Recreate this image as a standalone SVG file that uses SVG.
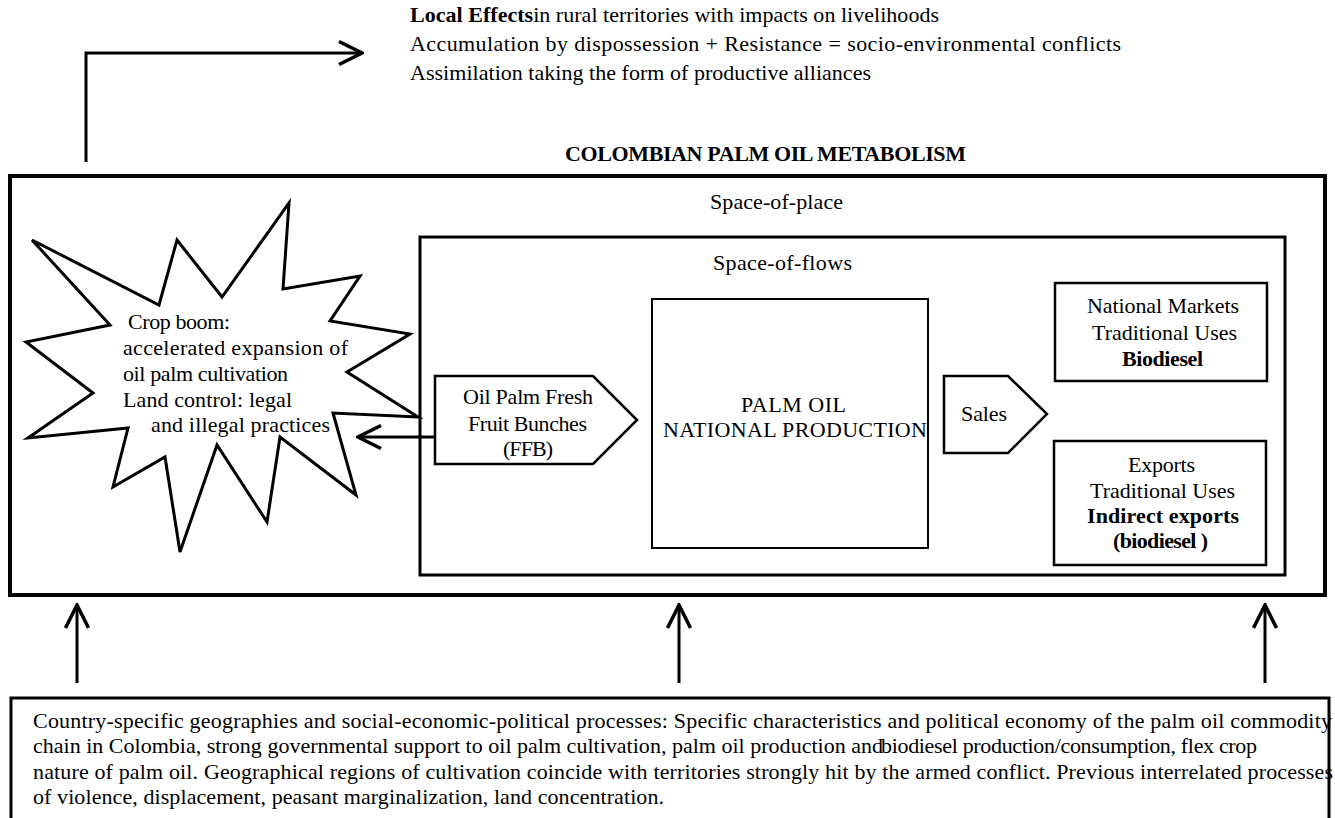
<svg xmlns="http://www.w3.org/2000/svg" width="1335" height="818" viewBox="0 0 1335 818" font-family="'Liberation Serif', 'DejaVu Serif', serif">
<style>
text{font-family:'Liberation Serif','DejaVu Serif',serif;font-size:22px;fill:#000}
.b{font-weight:bold}
.bx{fill:#fff;stroke:#000}
.cn{fill:none;stroke:#000;stroke-width:3}
</style>
<defs>
<marker id="chev" viewBox="0 0 26 26" refX="24" refY="13" markerWidth="26" markerHeight="26" markerUnits="userSpaceOnUse" orient="auto">
<path d="M1,1.5 L24,13 L1,24.5" fill="none" stroke="#000" stroke-width="3.5" stroke-linejoin="miter"/>
</marker>
</defs>
<rect width="1335" height="818" fill="#fff"/>

<g id="node-effects">
<text x="410" y="22" textLength="529" lengthAdjust="spacing"><tspan class="b">Local Effects</tspan>in rural territories with impacts on livelihoods</text>
<text x="410" y="51" textLength="711" lengthAdjust="spacing">Accumulation by dispossession  +  Resistance  =  socio-environmental conflicts</text>
<text x="410" y="80" textLength="461" lengthAdjust="spacing">Assimilation taking the form of productive alliances</text>
</g>

<g id="title">
<text class="b" x="565" y="161" textLength="401" lengthAdjust="spacing">COLOMBIAN PALM OIL METABOLISM</text>
</g>

<g id="node-space-of-place">
<rect class="bx" x="10" y="176" width="1315" height="419" stroke-width="4"/>
<text x="710" y="209" textLength="133" lengthAdjust="spacing">Space-of-place</text>
</g>

<g id="node-space-of-flows">
<rect class="bx" x="420" y="237" width="865" height="338" stroke-width="3"/>
<text x="713" y="270" textLength="139" lengthAdjust="spacing">Space-of-flows</text>
</g>

<g id="node-crop-boom">
<polygon class="bx" stroke-width="3" stroke-linejoin="miter" points="32,240 159,305 177,240 222,297 289,203 283,289 360,276 330,321 410,334 347,372 418,417 333,413 356,495 280,437 267,522 217,445 180,552 165,457 113,487 128,428 28,438 93,393 26,342 110,325"/>
<text x="128" y="329" textLength="102" lengthAdjust="spacing">Crop boom:</text>
<text x="123" y="355" textLength="225" lengthAdjust="spacing">accelerated expansion of</text>
<text x="123" y="381" textLength="165" lengthAdjust="spacing">oil palm cultivation</text>
<text x="123" y="407" textLength="169" lengthAdjust="spacing">Land control: legal</text>
<text x="151" y="432" textLength="179" lengthAdjust="spacing">and illegal practices</text>
</g>

<g id="node-ffb">
<polygon class="bx" stroke-width="2.5" points="435,376 593,376 637,420 593,464 435,464"/>
<text x="463" y="404" textLength="130" lengthAdjust="spacing">Oil Palm Fresh</text>
<text x="468" y="431" textLength="119" lengthAdjust="spacing">Fruit Bunches</text>
<text x="503" y="456" textLength="50" lengthAdjust="spacing">(FFB)</text>
</g>

<g id="node-production">
<rect class="bx" x="652" y="299" width="276" height="249" stroke-width="2"/>
<text x="741" y="412" textLength="105" lengthAdjust="spacing">PALM OIL</text>
<text x="663" y="437" textLength="264" lengthAdjust="spacing">NATIONAL PRODUCTION</text>
</g>

<g id="node-sales">
<polygon class="bx" stroke-width="2.5" points="944,376 1008,376 1047,414 1008,453 944,453"/>
<text x="961" y="421" textLength="46" lengthAdjust="spacing">Sales</text>
</g>

<g id="node-national-markets">
<rect class="bx" x="1055" y="283" width="212" height="98" stroke-width="2.5"/>
<text x="1087" y="313" textLength="152" lengthAdjust="spacing">National Markets</text>
<text x="1092" y="340" textLength="145" lengthAdjust="spacing">Traditional Uses</text>
<text class="b" x="1122" y="366" textLength="81" lengthAdjust="spacing">Biodiesel</text>
</g>

<g id="node-exports">
<rect class="bx" x="1054" y="441" width="212" height="124" stroke-width="2.5"/>
<text x="1128" y="472" textLength="67" lengthAdjust="spacing">Exports</text>
<text x="1090" y="498" textLength="145" lengthAdjust="spacing">Traditional Uses</text>
<text class="b" x="1087" y="523" textLength="152" lengthAdjust="spacing">Indirect exports</text>
<text class="b" x="1113" y="548" textLength="95" lengthAdjust="spacing">(biodiesel )</text>
</g>

<g id="node-context">
<rect class="bx" x="11" y="698" width="1318" height="140" stroke-width="3"/>
<text x="33" y="728" textLength="1299" lengthAdjust="spacing">Country-specific geographies and social-economic-political processes: Specific characteristics and political economy of the palm oil commodity</text>
<text x="33" y="753" textLength="850" lengthAdjust="spacing">chain in Colombia, strong governmental support to oil palm cultivation, palm oil production and</text>
<text x="881" y="753" textLength="376" lengthAdjust="spacing">biodiesel production/consumption, flex crop</text>
<text x="33" y="779" textLength="1300" lengthAdjust="spacing">nature of palm oil. Geographical regions of cultivation coincide with territories strongly hit by the armed conflict. Previous interrelated processes</text>
<text x="33" y="804" textLength="631" lengthAdjust="spacing">of violence, displacement, peasant marginalization, land concentration.</text>
</g>

<g id="connectors">
<path class="cn" d="M86,162 V53 H362" marker-end="url(#chev)"/>
<path class="cn" d="M435,437 H358" marker-end="url(#chev)"/>
<path class="cn" d="M77,683 V605" marker-end="url(#chev)"/>
<path class="cn" d="M679,683 V605" marker-end="url(#chev)"/>
<path class="cn" d="M1265,683 V605" marker-end="url(#chev)"/>
</g>
</svg>
